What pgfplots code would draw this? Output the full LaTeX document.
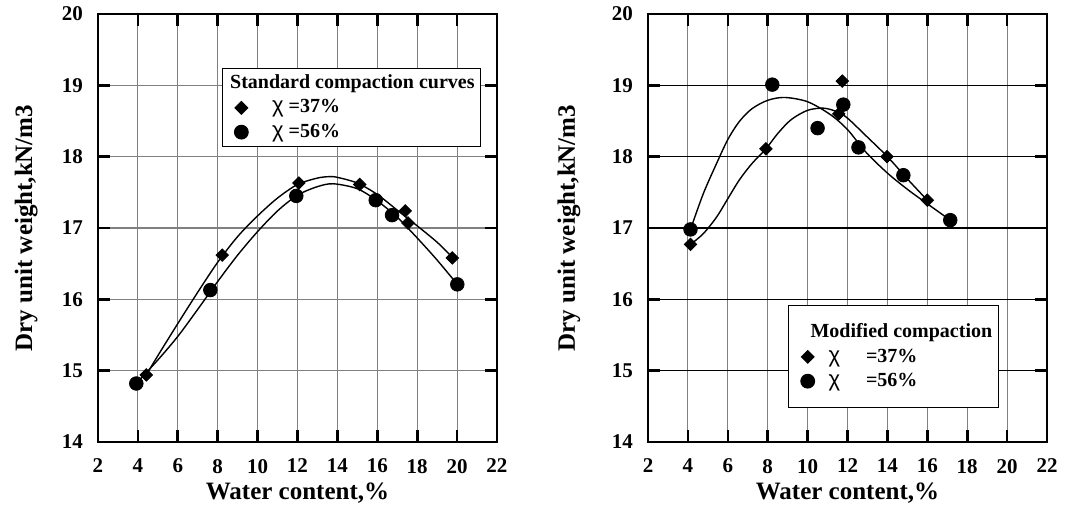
\documentclass[border=0pt]{standalone}
\usepackage{fontspec}
\setmainfont{Liberation Serif}
\newfontfamily\grk{Liberation Sans}
\usepackage{pgfplots}
\pgfplotsset{compat=1.18}

% standard compaction, measured points
\pgfplotstableread{
w g
4.42 14.94
8.23 16.62
12.07 17.63
15.12 17.61
17.40 17.24
17.54 17.07
19.76 16.58
}\stdA
\pgfplotstableread{
w g
3.92 14.82
7.63 16.13
11.94 17.45
15.92 17.39
16.74 17.18
20.01 16.21
}\stdB
% standard compaction, fitted curves
\pgfplotstableread{
w g
4.42 14.94
5 15.21
6 15.66
7 16.10
8 16.52
9 16.88
10 17.17
11 17.42
12 17.61
13 17.70
13.6 17.72
14 17.71
15 17.63
16 17.47
17 17.25
18 17.03
19 16.80
19.76 16.59
}\stdAfit
\pgfplotstableread{
w g
3.92 14.82
5 15.15
6 15.48
7 15.86
8 16.25
9 16.62
10 16.95
11 17.24
12 17.46
13 17.58
13.8 17.62
15 17.55
16 17.38
17 17.15
18 16.86
19 16.55
20.01 16.21
}\stdBfit

% modified compaction
\pgfplotstableread{
w g
4.13 16.77
7.91 18.11
11.56 18.60
11.74 19.06
13.98 18.00
16.00 17.39
}\modA
\pgfplotstableread{
w g
4.13 16.98
8.23 19.01
10.50 18.40
11.79 18.73
12.55 18.13
14.80 17.74
17.15 17.11
}\modB
\pgfplotstableread{
w g
4.13 16.77
4.77 16.92
5.43 17.15
6 17.41
6.57 17.67
7.2 17.90
7.91 18.11
8.52 18.33
9.18 18.52
10 18.65
10.8 18.68
11.47 18.63
12 18.54
12.9 18.30
14 18.00
15.06 17.67
16 17.39
}\modAfit
\pgfplotstableread{
w g
4.13 16.98
4.77 17.48
5.43 17.90
6 18.24
6.57 18.49
7.2 18.67
8 18.79
8.85 18.83
10 18.77
11.14 18.59
12 18.38
12.9 18.07
14 17.77
15.06 17.53
16 17.34
16.65 17.21
17.15 17.11
}\modBfit

\pgfplotsset{
  compaction/.style={
    width=199.5pt, height=214pt, scale only axis,
    xmin=2, xmax=22, ymin=14, ymax=20,
    xtick={2,4,...,22}, ytick={14,15,...,20},
    grid=major, major grid style={gray, line width=0.55pt},
    axis line style={line width=1.3pt},
    tick align=inside, major tick length=6pt,
    major tick style={black, line width=1.3pt},
    /pgf/number format/assume math mode=true,
    tick label style={font=\fontsize{10.5}{11}\selectfont\bfseries},
    xticklabel style={yshift=-5pt},
    yticklabel style={xshift=-4pt},
    label style={font=\fontsize{12.5}{14}\selectfont\bfseries},
    xlabel={Water content,\%},
    ylabel={Dry unit weight,kN/m3},
    x label style={at={(axis description cs:0.5,-0.12)}, anchor=center},
    legend cell align=left,
  },
  fitline/.style={black, line width=0.7pt, smooth, no markers, forget plot},
  dia/.style={only marks, mark=square*, mark size=2.2pt, mark options={rotate=45, fill=black}},
  dot/.style={only marks, mark=*, mark size=3.4pt, mark options={fill=black}},
}
\newcommand{\chisym}{{\mdseries\grk\fontsize{11}{11}\selectfont χ}}

\begin{document}
\begin{tikzpicture}
\path[use as bounding box] (-49pt,-33pt) rectangle (489.5pt,221pt);

\begin{axis}[compaction,
    y label style={at={(axis description cs:-0.18,0.5)}, anchor=center},
    legend style={at={(axis cs:8.2,19.24)}, anchor=north west, draw=black,
        line width=0.6pt, font=\fontsize{10}{11}\selectfont\bfseries,
        inner sep=1pt, row sep=0pt},
]
\addlegendimage{empty legend}
\addlegendentry{\hspace{-11pt}Standard compaction curves\hspace{3pt}}
\addplot[dia] table {\stdA};
\addlegendentry{\hspace{10pt}\chisym{} =37\%}
\addplot[dot] table {\stdB};
\addlegendentry{\hspace{10pt}\chisym{} =56\%\rule[-10pt]{0pt}{1pt}}
\addplot[fitline] table {\stdAfit};
\addplot[fitline] table {\stdBfit};
\end{axis}

\begin{axis}[compaction, xshift=275pt,
    y grid style={black},
    y label style={at={(axis description cs:-0.198,0.5)}, anchor=center},
    legend style={at={(axis cs:9.02,15.92)}, anchor=north west, draw=black,
        line width=0.6pt, font=\fontsize{10}{11}\selectfont\bfseries,
        inner xsep=1pt, inner ysep=7pt, row sep=0pt},
]
\addlegendimage{empty legend}
\addlegendentry{\hspace{-4pt}Modified compaction\hspace{8pt}}
\addplot[dia] table {\modA};
\addlegendentry{\hspace{5pt}\chisym\hspace{1.3em}=37\%}
\addplot[dot] table {\modB};
\addlegendentry{\hspace{5pt}\chisym\hspace{1.3em}=56\%}
\addplot[fitline] table {\modAfit};
\addplot[fitline] table {\modBfit};
\end{axis}
\end{tikzpicture}
\end{document}
